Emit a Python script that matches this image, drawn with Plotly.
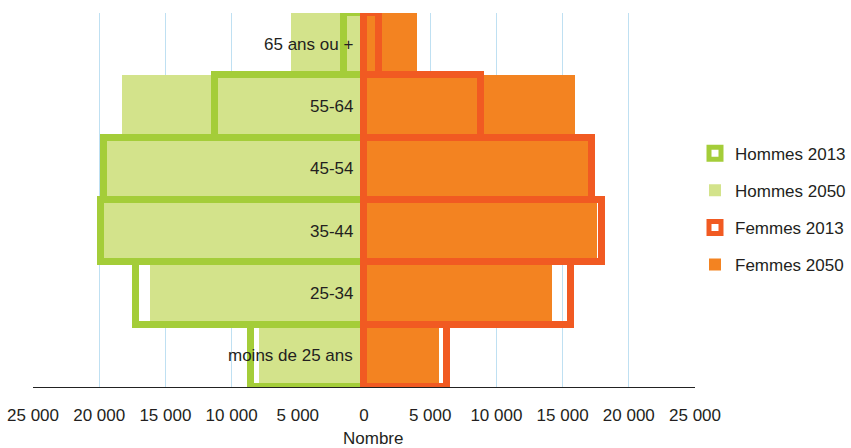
import plotly.graph_objects as go

categories = ["moins de 25 ans", "25-34", "35-44", "45-54", "55-64", "65 ans ou +"]
hommes_2013 = [8500, 17200, 19850, 19650, 11250, 1500]
hommes_2050 = [7900, 16150, 19700, 19500, 18300, 5500]
femmes_2013 = [6300, 15650, 17950, 17250, 8800, 1100]
femmes_2050 = [5700, 14200, 17600, 17000, 15900, 4000]
tick_vals = [-25000, -20000, -15000, -10000, -5000, 0, 5000, 10000, 15000, 20000, 25000]
tick_text = ["25 000", "20 000", "15 000", "10 000", "5 000", "0", "5 000", "10 000", "15 000", "20 000", "25 000"]

GREEN_LINE = "#a4cd39"
GREEN_FILL = "#d3e38b"
ORANGE_LINE = "#f15a22"
ORANGE_FILL = "#f38321"
TXT = "#231f20"
FONT = "Liberation Sans, Arial, sans-serif"

fig = go.Figure()
fig.add_trace(go.Bar(y=categories, x=[-v for v in hommes_2050], orientation="h", name="Hommes 2050",
                     marker=dict(color=GREEN_FILL, line=dict(width=0)), legendgroup="b", legendrank=2,
                     cliponaxis=False, hoverinfo="skip"))
fig.add_trace(go.Bar(y=categories, x=femmes_2050, orientation="h", name="Femmes 2050",
                     marker=dict(color=ORANGE_FILL, line=dict(width=0)), legendgroup="d", legendrank=4,
                     cliponaxis=False, hoverinfo="skip"))
fig.add_trace(go.Bar(y=categories, x=[-v for v in hommes_2013], orientation="h", name="Hommes 2013",
                     marker=dict(color="rgba(0,0,0,0)", line=dict(width=7, color=GREEN_LINE)),
                     legendgroup="a", legendrank=1, cliponaxis=False, hoverinfo="skip"))
fig.add_trace(go.Bar(y=categories, x=femmes_2013, orientation="h", name="Femmes 2013",
                     marker=dict(color="rgba(0,0,0,0)", line=dict(width=7, color=ORANGE_LINE)),
                     legendgroup="c", legendrank=3, cliponaxis=False, hoverinfo="skip"))

for c in categories:
    fig.add_annotation(x=0, y=c, xref="x", yref="y", text=c, showarrow=False,
                       xanchor="right", xshift=-9, font=dict(family=FONT, size=17, color=TXT))

fig.add_annotation(x=(373 - 33) / 662, y=0, xref="paper", yref="paper", yshift=-51,
                   text="Nombre", showarrow=False, xanchor="center", yanchor="middle",
                   font=dict(family=FONT, size=17, color=TXT))

fig.update_layout(
    width=851, height=448,
    margin=dict(l=33, r=156, t=13, b=61, autoexpand=False),
    barmode="overlay", bargap=0,
    plot_bgcolor="white", paper_bgcolor="white",
    font=dict(family=FONT, size=17, color=TXT),
    showlegend=True,
    legend=dict(x=1.0, y=0.672, xanchor="left", yanchor="top", tracegroupgap=12,
                font=dict(family=FONT, size=17, color=TXT), bgcolor="rgba(0,0,0,0)"),
    xaxis=dict(range=[-25000, 25000], tickvals=tick_vals, ticktext=tick_text,
               showgrid=True, gridcolor="#bfe0f2", gridwidth=1, zeroline=False,
               showline=True, linecolor="#222222", linewidth=1, ticks="",
               ticklabelstandoff=13, layer="below traces", automargin=False,
               tickfont=dict(family=FONT, size=17, color=TXT)),
    yaxis=dict(showticklabels=False, showgrid=False, zeroline=False, showline=False, ticks="",
               automargin=False),
)

fig.write_html("out.html", config={"displayModeBar": False},
               post_script="document.body.style.margin='0px';document.body.style.overflow='hidden';")
